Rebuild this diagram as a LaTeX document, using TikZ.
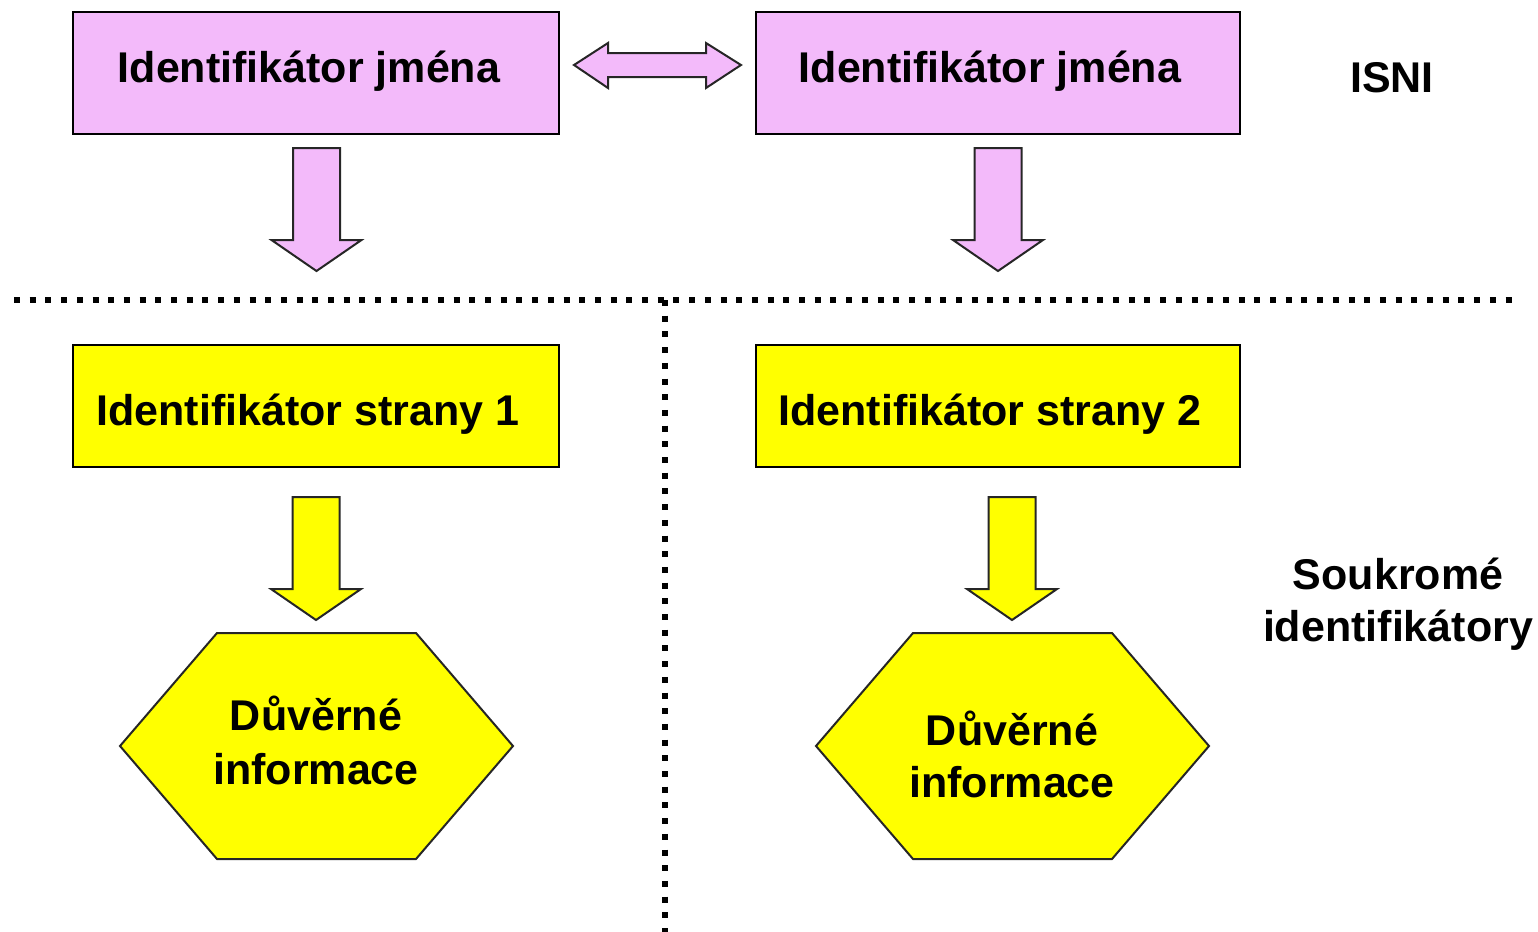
\documentclass[tikz,border=0pt]{standalone}
\usepackage{fontspec}
\setmainfont{Liberation Sans}
\usetikzlibrary{calc}
\definecolor{pinkf}{RGB}{243,186,250}
\definecolor{yelf}{RGB}{255,255,0}
\newcommand\blockdown[2]{%
  \draw[arrowst,fill=#2] (#1) ++(-23.5,0) -- ++(47,0) -- ++(0,92) -- ++(21.5,0)
    -- ++(-45,31) -- ++(-45,-31) -- ++(21.5,0) -- cycle;}
\newcommand\hexat[1]{%
  \draw[hexst] (#1) ++(-196,0) -- ++(97,-113) -- ++(199,0) -- ++(97,113)
    -- ++(-97,113) -- ++(-199,0) -- cycle;}
\begin{document}
\begin{tikzpicture}[x=0.5pt,y=-0.5pt,
  box/.style={draw=black,line width=1pt,minimum width=243pt,minimum height=61pt,
    inner sep=0pt,font=\fontsize{21.5}{27}\selectfont\bfseries},
  pinkbox/.style={box,fill=pinkf},
  yelbox/.style={box,fill=yelf},
  arrowst/.style={draw=black!85,line width=1pt,line join=miter},
  hexst/.style={draw=black!85,line width=1pt,fill=yelf},
  lbl/.style={font=\fontsize{21.5}{26}\selectfont\bfseries,align=center,inner sep=0pt},
  dotline/.style={line width=3.2pt,dash pattern=on 3pt off 4.85pt,line cap=butt}]
\useasboundingbox (0,0) rectangle (1538,932);
% top boxes
\node[pinkbox] (n1) at (316,73) {\raisebox{1pt}[\height][\depth]{Identifikátor jména}\hspace*{7pt}};
\node[pinkbox,minimum width=242pt] (n2) at (998,73) {\raisebox{1pt}[\height][\depth]{Identifikátor jména}\hspace*{8pt}};
\node[lbl] (isni) at (1392,78) {ISNI};
% double arrow
\coordinate (dl) at ($(n1.east)+(14,-8)$);
\coordinate (dr) at ($(n2.west)+(-14,-8)$);
\draw[arrowst,fill=pinkf] (dl) -- ++(34,-22) -- ++(0,10) -- ($(dr)+(-35,-12)$)
  -- ++(0,-10) -- (dr) -- ++(-35,23) -- ++(0,-11) -- ($(dl)+(34,12)$) -- ++(0,11) -- cycle;
% pink down arrows
\blockdown{$(n1.south)+(0.5,13)$}{pinkf}
\blockdown{$(n2.south)+(0,13)$}{pinkf}
% dotted separators
\coordinate (hl) at (14,300);
\coordinate (hr) at (1514,300);
\coordinate (vt) at (665,300);
\coordinate (vb) at (665,932);
\draw[dotline] (hl) -- (hr);
\draw[dotline] (vt) -- (vb);
% yellow boxes
\node[yelbox] (s1) at (316,406) {\raisebox{-4pt}[\height][\depth]{Identifikátor strany 1}\hspace*{8pt}};
\node[yelbox,minimum width=242pt] (s2) at (998,406) {\raisebox{-4pt}[\height][\depth]{Identifikátor strany 2}\hspace*{8pt}};
% hexagons
\coordinate (hc1) at (316,746);
\coordinate (hc2) at (1012,746);
\blockdown{$(s1.south)+(0,29)$}{yelf}
\blockdown{$(s2.south)+(14,29)$}{yelf}
\hexat{hc1}
\hexat{hc2}
\node[lbl,font=\fontsize{21.5}{27}\selectfont\bfseries] (t1) at (316,740) {Důvěrné\\informace};
\node[lbl,font=\fontsize{21.5}{26}\selectfont\bfseries] (t2) at (1012,754) {Důvěrné\\informace};
\node[lbl] (sk) at (1398,604) {Soukromé\\identifikátory};
\end{tikzpicture}
\end{document}
